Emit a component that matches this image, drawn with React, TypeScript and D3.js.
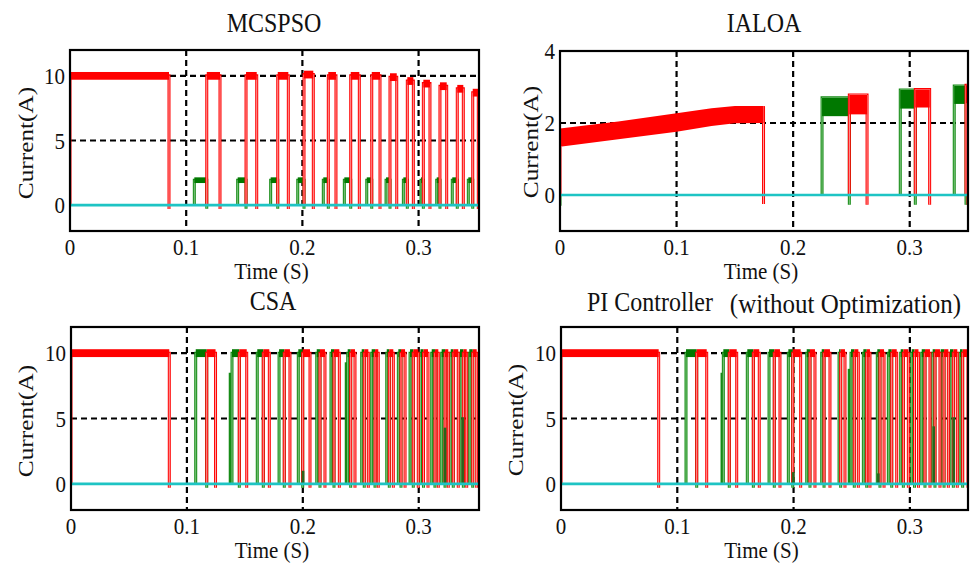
import React from "react";
import * as d3 from "d3";

const W = 974;
const H = 565;
const FONT = '"Liberation Serif", "Times New Roman", serif';
const RED = "#ff0000";
const PINK = "#ffb4b4";
const GREEN = "#178c17";
const LGREEN = "#8fcf8f";
const GBAND = "#007800";
const DGREEN = "#2b641c";
const CYAN = "#1ec4c4";

const xTicks = [0, 0.1, 0.2, 0.3];
const xTickLabels = ["0", "0.1", "0.2", "0.3"];

// ---- MCSPSO ----
const mcRedOn = [0, 0.1177, 0.1515, 0.1788, 0.2014, 0.2223, 0.2416, 0.2597, 0.2754, 0.2903, 0.3041, 0.3184, 0.3333, 0.3466];
const mcRedOff = [0.0852, 0.1291, 0.1607, 0.1879, 0.2094, 0.2289, 0.249, 0.2668, 0.2812, 0.2955, 0.3098, 0.3242, 0.3385, 0.3514];
const mcRedLevel = [10, 10, 10, 10, 10.1, 10, 10, 10, 9.9, 9.6, 9.4, 9.2, 9.0, 8.7];
const mcGreenOn = [0.107, 0.1443, 0.1727, 0.196, 0.218, 0.2361, 0.2554, 0.272, 0.2869, 0.3021, 0.3156, 0.329, 0.3428];
const mcGreenOff = [0.1177, 0.1515, 0.1788, 0.2014, 0.2223, 0.2416, 0.2597, 0.2754, 0.2903, 0.3041, 0.3184, 0.3333, 0.3466];
const mcGreenLevel = 1.93;

// ---- IALOA ----
const iaRampT = [0, 0.05, 0.1, 0.13, 0.15, 0.1746];
const iaRampLow = [1.34, 1.55, 1.76, 1.92, 1.99, 2.0];
const iaRampHigh = [1.85, 2.04, 2.27, 2.41, 2.47, 2.47];
const iaRedOn = [0.2482, 0.3048, 0.3483];
const iaRedOff = [0.2634, 0.3171, 0.35];
const iaRedLow = [2.24, 2.43, 2.55];
const iaRedHigh = [2.78, 2.93, 3.05];
const iaGreenOn = [0.2248, 0.2919, 0.3382];
const iaGreenOff = [0.2482, 0.3048, 0.3483];
const iaGreenLow = [2.19, 2.4, 2.53];
const iaGreenHigh = [2.7, 2.92, 3.03];

// ---- CSA ----
const csGreenOn = [0.1076, 0.1389, 0.1607, 0.1795, 0.1961, 0.212, 0.2243, 0.2387, 0.2508, 0.2594, 0.2724, 0.2824, 0.2925, 0.3015, 0.3112, 0.3198, 0.3276, 0.3356, 0.3436];
const csRedOn = [0, 0.1171, 0.1452, 0.1659, 0.184, 0.1999, 0.2148, 0.2269, 0.2413, 0.253, 0.2623, 0.2746, 0.2847, 0.2953, 0.3041, 0.314, 0.3227, 0.3298, 0.3385, 0.3466];
const csRedOff = [0.0848, 0.1247, 0.1516, 0.1711, 0.1889, 0.2062, 0.2191, 0.2315, 0.245, 0.2565, 0.2651, 0.2781, 0.2882, 0.2996, 0.308, 0.3169, 0.3255, 0.3341, 0.3414, 0.35];
const csStepT = [0.1372, 0.2373];
const csStepLevel = [8.5, 9.3];
const csSpikeT = [0.2002, 0.3227, 0.3379];
const csSpikeLevel = [1.0, 4.3, 5.1];

// ---- PI Controller ----
const piGreenOn = [0.1075, 0.1396, 0.1602, 0.1789, 0.1955, 0.2113, 0.2242, 0.2391, 0.2494, 0.26, 0.272, 0.2815, 0.2921, 0.3016, 0.3102, 0.3196, 0.3265, 0.3345, 0.3431];
const piRedOn = [0, 0.1167, 0.1447, 0.1654, 0.1834, 0.1993, 0.2141, 0.2262, 0.2405, 0.2522, 0.2629, 0.2743, 0.2844, 0.2944, 0.304, 0.313, 0.3216, 0.3294, 0.3374, 0.3454];
const piRedOff = [0.084, 0.1253, 0.1511, 0.1705, 0.1883, 0.2061, 0.2184, 0.2313, 0.2442, 0.2557, 0.2657, 0.2778, 0.2887, 0.2987, 0.3074, 0.3173, 0.3259, 0.3331, 0.3408, 0.35];
const piStepT = [0.1383, 0.2477];
const piStepLevel = [8.5, 8.8];
const piSpikeT = [0.1998, 0.2729, 0.3205, 0.3377];
const piSpikeLevel = [0.9, 0.8, 4.4, 5.1];

type Box = { x0: number; x1: number; y0: number; y1: number };
type Sc = d3.ScaleLinear<number, number>;

// edge drawn twice so the trace looks like the doubled simulation line
function Edge({ d, color, inner, w = 3 }: { d: string; color: string; inner: string; w?: number }) {
  return (
    <g fill="none">
      <path d={d} stroke={color} strokeWidth={w} />
      <path d={d} stroke={inner} strokeWidth={0.9} />
    </g>
  );
}

// rectangular pulses with a ripple band on top
function Pulses({ x, y, on, off, level, ripple, color, inner, band, drop }: {
  x: Sc; y: Sc; on: number[]; off: number[]; level: (i: number) => number;
  ripple: number; color: string; inner: string; band: string; drop: number;
}) {
  return (
    <g>
      {on.map((t, i) => {
        const lv = level(i);
        const d = `M${x(t)},${y(0)}V${y(lv)}H${x(off[i])}V${y(drop)}`;
        return (
          <g key={i}>
            <Edge d={d} color={color} inner={inner} />
            <rect x={x(t)} width={Math.max(0, x(off[i]) - x(t))} y={y(lv + ripple)} height={y(lv - ripple) - y(lv + ripple)} fill={band} />
          </g>
        );
      })}
    </g>
  );
}

function Spikes({ x, y, ts, lv, color }: { x: Sc; y: Sc; ts: number[]; lv: number[]; color: string }) {
  return (
    <g>
      {ts.map((t, i) => (
        <line key={i} x1={x(t)} x2={x(t)} y1={y(0)} y2={y(lv[i])} stroke={color} strokeWidth={2.6} />
      ))}
    </g>
  );
}

function Txt({ x, y, children, anchor = "middle", size = 21, rot = false }: {
  x: number; y: number; children: React.ReactNode; anchor?: string; size?: number; rot?: boolean;
}) {
  const tr = rot ? `translate(${x},${y}) rotate(-90) scale(1.15,1)` : `translate(${x},${y}) scale(1,1.12)`;
  return (
    <text transform={tr} textAnchor={anchor} fontFamily={FONT} fontSize={size} fill="#111">
      {children}
    </text>
  );
}

function Panel({ id, box, xMax, yDom, yTicks, hGrid, labelX, labelY, titleNode, draw }: {
  id: string; box: Box; xMax: number; yDom: [number, number]; yTicks: number[]; hGrid: number[];
  labelX: number; labelY: number; titleNode: React.ReactNode; draw: (x: Sc, y: Sc) => React.ReactNode;
}) {
  const x = d3.scaleLinear().domain([0, xMax]).range([box.x0, box.x1]);
  const y = d3.scaleLinear().domain(yDom).range([box.y1, box.y0]);
  const cx = (box.x0 + box.x1) / 2;
  return (
    <g>
      <defs>
        <clipPath id={id}>
          <rect x={box.x0} y={box.y0} width={box.x1 - box.x0} height={box.y1 - box.y0} />
        </clipPath>
      </defs>
      <rect x={box.x0} y={box.y0} width={box.x1 - box.x0} height={box.y1 - box.y0} fill="#fff" />
      <g stroke="#000" strokeWidth={2.2} strokeDasharray="6,4">
        {xTicks.filter((t) => t > 0).map((t) => (
          <line key={t} x1={x(t)} x2={x(t)} y1={box.y0} y2={box.y1} />
        ))}
        {hGrid.map((v) => (
          <line key={v} x1={box.x0} x2={box.x1} y1={y(v)} y2={y(v)} />
        ))}
      </g>
      <g clipPath={`url(#${id})`}>
        {draw(x, y)}
        <line x1={box.x0} x2={box.x1} y1={y(0)} y2={y(0)} stroke={CYAN} strokeWidth={2.6} />
      </g>
      <rect x={box.x0} y={box.y0} width={box.x1 - box.x0} height={box.y1 - box.y0} fill="none" stroke="#000" strokeWidth={2.2} />
      {xTicks.map((t, i) => (
        <Txt key={t} x={x(t)} y={box.y1 + 24}>{xTickLabels[i]}</Txt>
      ))}
      {yTicks.map((v) => (
        <Txt key={v} x={box.x0 - 5} y={y(v) + 8} anchor="end">{String(v)}</Txt>
      ))}
      <Txt x={cx - 3} y={box.y1 + 48}>Time (S)</Txt>
      <Txt x={labelX} y={labelY} rot size={22}>Current(A)</Txt>
      {titleNode}
    </g>
  );
}

export default function App() {
  const rampArea = (x: Sc, y: Sc) =>
    d3.area<number>()
      .x((_, i) => x(iaRampT[i]))
      .y0((_, i) => y(iaRampLow[i]))
      .y1((_, i) => y(iaRampHigh[i]))(iaRampT) || "";

  const bandPulses = (x: Sc, y: Sc, on: number[], off: number[], lo: number[], hi: number[], color: string, inner: string, band: string) =>
    on.map((t, i) => (
      <g key={i}>
        <Edge d={`M${x(t)},${y(0)}V${y(hi[i])}H${x(off[i])}V${y(-0.27)}`} color={color} inner={inner} />
        <rect x={x(t)} width={Math.max(0, x(off[i]) - x(t))} y={y(hi[i])} height={y(lo[i]) - y(hi[i])} fill={band} />
      </g>
    ));

  return (
    <svg width={W} height={H} viewBox={`0 0 ${W} ${H}`} style={{ display: "block", position: "absolute", left: 0, top: 0, background: "#fff" }}>
      <rect width={W} height={H} fill="#fff" />

      <Panel
        id="p1" box={{ x0: 70, x1: 479, y0: 50, y1: 231 }} xMax={0.352} yDom={[-2, 12]}
        yTicks={[0, 5, 10]} hGrid={[5, 10]} labelX={33} labelY={143}
        titleNode={<Txt x={274} y={32} size={24}>MCSPSO</Txt>}
        draw={(x, y) => (
          <g>
            <Pulses x={x} y={y} on={mcGreenOn} off={mcGreenOff} level={() => mcGreenLevel} ripple={0.22} color={GREEN} inner={LGREEN} band={GBAND} drop={-0.27} />
            <Pulses x={x} y={y} on={mcRedOn} off={mcRedOff} level={(i) => mcRedLevel[i]} ripple={0.3} color={RED} inner={PINK} band={RED} drop={-0.3} />
          </g>
        )}
      />

      <Panel
        id="p2" box={{ x0: 560, x1: 968, y0: 51, y1: 231 }} xMax={0.35} yDom={[-1, 4]}
        yTicks={[0, 2, 4]} hGrid={[2]} labelX={538} labelY={142}
        titleNode={<Txt x={764} y={32} size={24}>IALOA</Txt>}
        draw={(x, y) => (
          <g>
            <line x1={x(0)} x2={x(0)} y1={y(0)} y2={y(-0.3)} stroke={GREEN} strokeWidth={3} />
            {bandPulses(x, y, iaGreenOn, iaGreenOff, iaGreenLow, iaGreenHigh, GREEN, LGREEN, GBAND)}
            <Edge d={`M${x(0)},${y(0)}V${y(iaRampLow[0])}`} color={RED} inner={PINK} />
            <Edge d={`M${x(iaRampT[iaRampT.length - 1])},${y(iaRampHigh[iaRampHigh.length - 1])}V${y(-0.25)}`} color={RED} inner={PINK} />
            <path d={rampArea(x, y)} fill={RED} />
            {bandPulses(x, y, iaRedOn, iaRedOff, iaRedLow, iaRedHigh, RED, PINK, RED)}
          </g>
        )}
      />

      <Panel
        id="p3" box={{ x0: 71, x1: 479, y0: 327, y1: 510 }} xMax={0.352} yDom={[-2, 12]}
        yTicks={[0, 5, 10]} hGrid={[5, 10]} labelX={33} labelY={421}
        titleNode={<Txt x={273} y={310} size={24}>CSA</Txt>}
        draw={(x, y) => (
          <g>
            <Spikes x={x} y={y} ts={csStepT} lv={csStepLevel} color={GREEN} />
            <Pulses x={x} y={y} on={csGreenOn} off={csRedOn.slice(1)} level={() => 10} ripple={0.3} color={GREEN} inner={LGREEN} band={GBAND} drop={-0.3} />
            <Pulses x={x} y={y} on={csRedOn} off={csRedOff} level={() => 10} ripple={0.3} color={RED} inner={PINK} band={RED} drop={-0.3} />
            <Spikes x={x} y={y} ts={csSpikeT} lv={csSpikeLevel} color={DGREEN} />
          </g>
        )}
      />

      <Panel
        id="p4" box={{ x0: 561, x1: 968, y0: 327, y1: 510 }} xMax={0.35} yDom={[-2, 12]}
        yTicks={[0, 5, 10]} hGrid={[5, 10]} labelX={523} labelY={420}
        titleNode={
          <g>
            <Txt x={587} y={311} size={24} anchor="start">PI Controller</Txt>
            <Txt x={961} y={313} size={25} anchor="end">(without Optimization)</Txt>
          </g>
        }
        draw={(x, y) => (
          <g>
            <Spikes x={x} y={y} ts={piStepT} lv={piStepLevel} color={GREEN} />
            <Pulses x={x} y={y} on={piGreenOn} off={piRedOn.slice(1)} level={() => 10} ripple={0.3} color={GREEN} inner={LGREEN} band={GBAND} drop={-0.3} />
            <Pulses x={x} y={y} on={piRedOn} off={piRedOff} level={() => 10} ripple={0.3} color={RED} inner={PINK} band={RED} drop={-0.3} />
            <Spikes x={x} y={y} ts={piSpikeT} lv={piSpikeLevel} color={DGREEN} />
          </g>
        )}
      />
    </svg>
  );
}
